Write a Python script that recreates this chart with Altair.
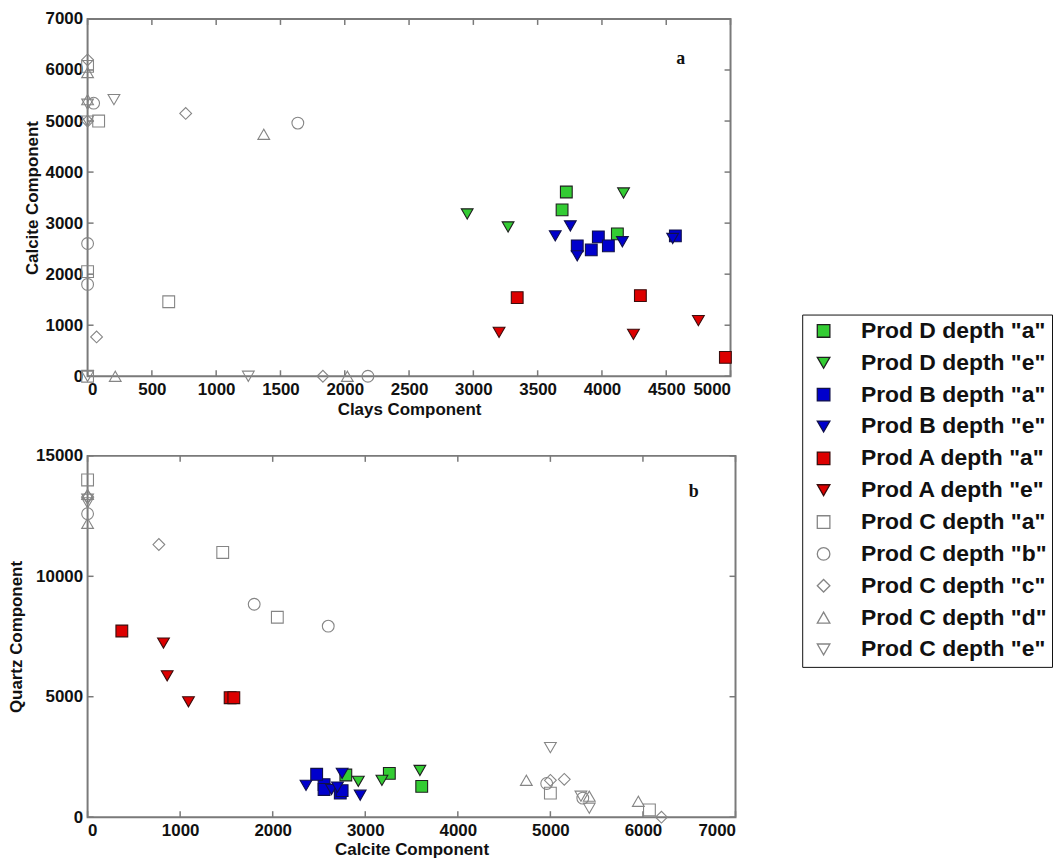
import altair as alt
import pandas as pd

SERIES = ['Prod D depth "a"', 'Prod D depth "e"', 'Prod B depth "a"', 'Prod B depth "e"',
          'Prod A depth "a"', 'Prod A depth "e"', 'Prod C depth "a"', 'Prod C depth "b"',
          'Prod C depth "c"', 'Prod C depth "d"', 'Prod C depth "e"']
SHAPES = ["square", "triangle-down", "square", "triangle-down", "square", "triangle-down",
          "square", "circle", "diamond", "triangle-up", "triangle-down"]
FILLS = ["#33cc33", "#33cc33", "#0000cc", "#0000cc", "#dd0000", "#dd0000",
         "transparent", "transparent", "transparent", "transparent", "transparent"]
STROKES = ["#1f1f1f", "#1f1f1f", "#10104a", "#10104a", "#3a0d0d", "#3a0d0d",
           "#858585", "#858585", "#858585", "#858585", "#858585"]

# per sample: clays component, calcite component, quartz component
CLAYS = {
    'Prod D depth "a"': [3723, 3690, 4120],
    'Prod D depth "e"': [2952, 3270, 4168],
    'Prod B depth "a"': [3808, 3917, 3972, 4050, 4571],
    'Prod B depth "e"': [3754, 3637, 3808, 4159, 4550],
    'Prod A depth "a"': [3341, 4299, 4960],
    'Prod A depth "e"': [3200, 4245, 4750],
    'Prod C depth "a"': [0, 631, 0, 86, 0],
    'Prod C depth "b"': [47, 1635, 0, 0, 2180],
    'Prod C depth "c"': [0, 0, 763, 70, 1830],
    'Prod C depth "d"': [0, 0, 1370, 215, 2020],
    'Prod C depth "e"': [205, 0, 0, 1250, 0],
}
CALCITE = {
    'Prod D depth "a"': [3610, 3260, 2790],
    'Prod D depth "e"': [3180, 2925, 3590],
    'Prod B depth "a"': [2555, 2475, 2730, 2555, 2750],
    'Prod B depth "e"': [2945, 2750, 2360, 2635, 2700],
    'Prod A depth "a"': [1540, 1580, 370],
    'Prod A depth "e"': [860, 820, 1090],
    'Prod C depth "a"': [0, 1460, 2050, 5000, 6070],
    'Prod C depth "b"': [5350, 4960, 2600, 1800, 0],
    'Prod C depth "c"': [6200, 5000, 5150, 770, 0],
    'Prod C depth "d"': [5950, 5420, 4740, 0, 0],
    'Prod C depth "e"': [5420, 5000, 5330, 0, 0],
}
QUARTZ = {
    'Prod D depth "a"': [1280, 1820, 1750],
    'Prod D depth "e"': [1530, 1490, 1940],
    'Prod B depth "a"': [1350, 1780, 1000, 1150, 1100],
    'Prod B depth "e"': [910, 1820, 1320, 1150, 1250],
    'Prod A depth "a"': [4960, 4960, 7730],
    'Prod A depth "e"': [5870, 7230, 4790],
    'Prod C depth "a"': [14000, 10990, 8300, 1000, 300],
    'Prod C depth "b"': [790, 1400, 7930, 8840, 12600],
    'Prod C depth "c"': [0, 1530, 1570, 11320, 13300],
    'Prod C depth "d"': [660, 870, 1530, 13400, 12200],
    'Prod C depth "e"': [370, 2890, 870, 13200, 13050],
}

TOP_X_TICKS = [0, 500, 1000, 1500, 2000, 2500, 3000, 3500, 4000, 4500, 5000]
TOP_Y_TICKS = [0, 1000, 2000, 3000, 4000, 5000, 6000, 7000]
BOT_X_TICKS = [0, 1000, 2000, 3000, 4000, 5000, 6000, 7000]
BOT_Y_TICKS = [0, 5000, 10000, 15000]

rows = []
for s in SERIES:
    for c, ca, q in zip(CLAYS[s], CALCITE[s], QUARTZ[s]):
        rows.append({"series": s, "clays": c, "calcite": ca, "quartz": q})
df = pd.DataFrame(rows)

FONT = "Liberation Sans"
GRAY = "#7a7a7a"

legend = alt.Legend(
    title=None, orient="none", legendX=718, legendY=297,
    labelFont=FONT, labelFontWeight="bold", labelFontSize=23, labelColor="#111",
    symbolSize=160, symbolStrokeWidth=1.3, rowPadding=8, labelOffset=26, symbolOffset=5,
    strokeColor="#111", fillColor="white", padding=5, labelLimit=400,
)

shape_enc = alt.Shape("series:N", scale=alt.Scale(domain=SERIES, range=SHAPES), legend=legend)
fill_enc = alt.Fill("series:N", scale=alt.Scale(domain=SERIES, range=FILLS), legend=legend)
stroke_enc = alt.Stroke("series:N", scale=alt.Scale(domain=SERIES, range=STROKES), legend=legend)


def axis(values, title, pad_title, pad_label=5):
    return alt.Axis(values=values, title=title, grid=False, domain=False, ticks=False,
                    labelFont=FONT, labelFontWeight="bold", labelFontSize=17, labelColor="#111",
                    labelPadding=pad_label, titleFont=FONT, titleFontWeight="bold", titleFontSize=17,
                    titleColor="#111", titlePadding=pad_title, format="d")


def panel(xfield, yfield, xdom, ydom, xticks, yticks, xtitle, ytitle, W, H, tag, tagx, tagy,
          ytp, xtp):
    xs = alt.Scale(domain=xdom, nice=False, zero=False)
    ys = alt.Scale(domain=ydom, nice=False, zero=False)
    xa = axis(xticks, xtitle, xtp)
    ya = axis(yticks, ytitle, ytp)
    pts = alt.Chart(df).mark_point(filled=True, opacity=1, size=140, strokeWidth=1.1).encode(
        x=alt.X(f"{xfield}:Q", scale=xs, axis=xa),
        y=alt.Y(f"{yfield}:Q", scale=ys, axis=ya),
        shape=shape_enc, fill=fill_enc, stroke=stroke_enc,
    )
    xt = pd.DataFrame({"v": xticks})
    yt = pd.DataFrame({"v": yticks})
    L = 6
    rule = dict(color=GRAY, strokeWidth=1.5)
    tb = alt.Chart(xt).mark_rule(**rule).encode(
        x=alt.X("v:Q", scale=xs, axis=xa), y=alt.value(H), y2=alt.value(H - L))
    tt = alt.Chart(xt).mark_rule(**rule).encode(
        x=alt.X("v:Q", scale=xs, axis=xa), y=alt.value(0), y2=alt.value(L))
    tl = alt.Chart(yt).mark_rule(**rule).encode(
        y=alt.Y("v:Q", scale=ys, axis=ya), x=alt.value(0), x2=alt.value(L))
    tr = alt.Chart(yt).mark_rule(**rule).encode(
        y=alt.Y("v:Q", scale=ys, axis=ya), x=alt.value(W), x2=alt.value(W - L))
    lab = alt.Chart(pd.DataFrame({"t": [tag]})).mark_text(
        font="Liberation Serif", fontWeight="bold", fontSize=18, color="#111"
    ).encode(text="t:N", x=alt.value(tagx), y=alt.value(tagy))
    return alt.layer(tb, tt, tl, tr, pts, lab).properties(width=W, height=H)


top = panel("clays", "calcite", [0, 5000], [0, 7000], TOP_X_TICKS, TOP_Y_TICKS,
            "Clays Component", "Calcite Component", 646, 359, "a", 596, 40, 3, 4)
bottom = panel("calcite", "quartz", [0, 7000], [0, 15000], BOT_X_TICKS, BOT_Y_TICKS,
               "Calcite Component", "Quartz Component", 651, 363, "b", 609, 36, 10, 4)

chart = alt.vconcat(top, bottom, spacing=80, bounds="flush").properties(
    padding={"left": 6, "top": 7, "right": 0, "bottom": 0},
    background="white",
).configure_view(stroke=GRAY, strokeWidth=2)

chart.save("out.html", embed_options={"renderer": "svg", "actions": False})
